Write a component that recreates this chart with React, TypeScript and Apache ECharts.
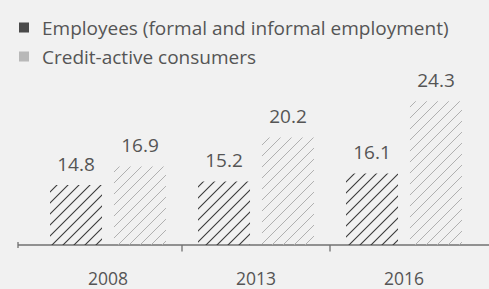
import React, { useEffect, useRef } from "react";
import * as echarts from "echarts";

const categories = ["2008", "2013", "2016"];
const employees = [14.8, 15.2, 16.1];
const consumers = [16.9, 20.2, 24.3];
const seriesNames = ["Employees (formal and informal employment)", "Credit-active consumers"];

const FONT = "'Open Sans', 'Noto Sans', sans-serif";
const TEXT = "#555555";
const AXIS = "#707070";
const DARK = "#4a4a4a";
const LIGHT = "#b8b8b8";

function hatch(stroke: string, width: number) {
  const s = 11;
  const c = document.createElement("canvas");
  c.width = s;
  c.height = s;
  const ctx = c.getContext("2d")!;
  ctx.strokeStyle = stroke;
  ctx.lineWidth = width;
  ctx.beginPath();
  ctx.moveTo(-1, s + 1);
  ctx.lineTo(s + 1, -1);
  ctx.moveTo(-1, 1);
  ctx.lineTo(1, -1);
  ctx.moveTo(s - 1, s + 1);
  ctx.lineTo(s + 1, s - 1);
  ctx.stroke();
  return { image: c, repeat: "repeat" };
}

function squareIcon(color: string) {
  const c = document.createElement("canvas");
  c.width = 10;
  c.height = 10;
  const ctx = c.getContext("2d")!;
  ctx.fillStyle = color;
  ctx.fillRect(0, 0, 10, 10);
  return "image://" + c.toDataURL();
}

export default function App() {
  const ref = useRef<HTMLDivElement>(null);
  useEffect(() => {
    if (!ref.current) return;
    const chart = echarts.init(ref.current, null, { renderer: "svg" });
    const label = {
      show: true,
      position: "top" as const,
      distance: 12,
      color: TEXT,
      fontSize: 19,
      fontFamily: FONT,
      formatter: (p: any) => p.value.toFixed(1),
    };
    chart.setOption({
      animation: false,
      backgroundColor: "#f1f1f1",
      textStyle: { fontFamily: FONT },
      legend: {
        orient: "vertical",
        left: 14,
        top: 13,
        itemWidth: 10,
        itemHeight: 10,
        itemGap: 10,
        textStyle: { color: TEXT, fontSize: 19, fontFamily: FONT, padding: [0, 0, 0, 8], lineHeight: 18 },
        data: [
          { name: seriesNames[0], icon: squareIcon(DARK) },
          { name: seriesNames[1], icon: squareIcon(LIGHT) },
        ],
      },
      grid: { left: 34, right: 11, top: 51, bottom: 44 },
      xAxis: {
        type: "category",
        data: categories,
        axisLine: { show: false },
        axisTick: { show: false },
        axisLabel: { color: TEXT, fontSize: 17.5, fontFamily: FONT, margin: 26, lineHeight: 14 },
      },
      yAxis: { type: "value", min: 8, max: 30, show: false, splitLine: { show: false } },
      series: [
        {
          name: seriesNames[0],
          type: "bar",
          data: employees,
          barWidth: 52,
          barGap: "23%",
          itemStyle: { color: hatch("#3a3a3a", 1.1) },
          label,
        },
        {
          name: seriesNames[1],
          type: "bar",
          data: consumers,
          barWidth: 52,
          itemStyle: { color: hatch("#b0b0b0", 1.0) },
          label,
        },
      ],
    });
    // axis line and boundary ticks derived from the category scale
    const centers = categories.map((c) => chart.convertToPixel({ xAxisIndex: 0 }, c) as number);
    const y0 = chart.convertToPixel({ yAxisIndex: 0 }, 8) as number;
    const band = centers[1] - centers[0];
    const lineStyle = { stroke: AXIS, lineWidth: 1.3 };
    const x0 = centers[0] - band / 2 - 16;
    const elements: any[] = [
      { type: "line", shape: { x1: x0, y1: y0, x2: 489, y2: y0 }, style: lineStyle },
      { type: "line", shape: { x1: x0, y1: y0 - 3, x2: x0, y2: y0 + 3 }, style: lineStyle },
    ];
    for (let i = 1; i < centers.length; i++) {
      const x = (centers[i - 1] + centers[i]) / 2;
      elements.push({ type: "line", shape: { x1: x, y1: y0, x2: x, y2: y0 + 6.5 }, style: lineStyle });
    }
    chart.setOption({ graphic: { elements } });
    return () => chart.dispose();
  }, []);
  return <div ref={ref} style={{ position: "absolute", left: 0, top: 0, width: 489, height: 289 }} />;
}
